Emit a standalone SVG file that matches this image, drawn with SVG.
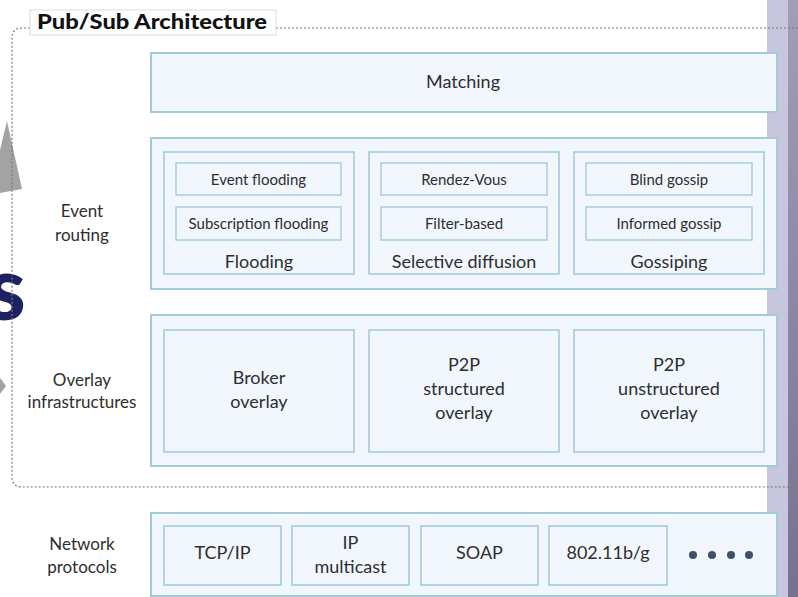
<svg xmlns="http://www.w3.org/2000/svg" width="798" height="597" viewBox="0 0 798 597">
<defs>
<linearGradient id="barg" x1="0" y1="0" x2="0" y2="1">
<stop offset="0" stop-color="#a29eba"/>
<stop offset="1" stop-color="#77718f"/>
</linearGradient>
<style>
.outer{fill:#f1f7fd;stroke:#a3cbdc;stroke-width:2}
.inner{fill:#f1f7fd;stroke:#a3cbdc;stroke-width:1.6}
.sub{fill:#f1f7fd;stroke:#a3cbdc;stroke-width:1.4}
text{font-family:Lato,"Liberation Sans",sans-serif;fill:#2e2e2e;text-anchor:middle}
.l{font-size:18px}
.s{font-size:15px}
.side{font-size:17px}
.frame{fill:none;stroke:#7a7a7a;stroke-width:1.2;stroke-dasharray:2 2}
</style>
</defs>
<rect width="798" height="597" fill="#ffffff"/>
<!-- right side bar -->
<rect x="767" y="0" width="21" height="597" fill="#c6c6dc"/>
<rect x="788" y="0" width="10" height="597" fill="url(#barg)"/>
<!-- left clipped artifacts -->
<polygon points="0,150 7,121 22,189 0,193" fill="#a3a3a3"/>
<polygon points="0,378 6,386 0,394" fill="#a3a3a3"/>
<text x="-14" y="320" style="font-family:Lato,'Liberation Sans',sans-serif;font-weight:900;font-size:90px;fill:#1f2262;text-anchor:start">s</text>
<!-- dotted frame -->
<path class="frame" d="M30,28 H22 Q12,28 12,38 V477 Q12,487 22,487 H798"/>
<path class="frame" d="M276,28 H798"/>
<g id="title">
<rect x="30" y="10" width="246" height="25" fill="#ffffff" stroke="#dcdcdc" stroke-width="1"/>
<text x="152" y="29" textLength="230" lengthAdjust="spacingAndGlyphs" style="font-size:20px;font-weight:900;fill:#111">Pub/Sub Architecture</text>
</g>
<!-- side labels -->
<g id="label-event-routing"><text class="side" x="82" y="217">Event</text><text class="side" x="82" y="241">routing</text></g>
<g id="label-overlay"><text class="side" x="82" y="386">Overlay</text><text class="side" x="82" y="408">infrastructures</text></g>
<g id="label-network"><text class="side" x="82" y="550">Network</text><text class="side" x="82" y="573">protocols</text></g>
<!-- Matching -->
<g id="matching">
<rect class="outer" x="151" y="53" width="626" height="59"/>
<text class="l" x="463" y="88">Matching</text>
</g>
<!-- Event routing -->
<g id="event-routing">
<rect class="outer" x="151" y="138" width="626" height="151"/>
</g>
<g id="flooding">
<rect class="inner" x="164" y="152" width="190" height="122"/>
<rect class="sub" x="176" y="163" width="165" height="32"/>
<text class="s" x="258.5" y="185">Event flooding</text>
<rect class="sub" x="176" y="207" width="165" height="33"/>
<text class="s" x="258.5" y="229">Subscription flooding</text>
<text class="l" x="259" y="268">Flooding</text>
</g>
<g id="selective-diffusion">
<rect class="inner" x="369" y="152" width="190" height="122"/>
<rect class="sub" x="381" y="163" width="166" height="32"/>
<text class="s" x="464" y="185">Rendez-Vous</text>
<rect class="sub" x="381" y="207" width="166" height="33"/>
<text class="s" x="464" y="229">Filter-based</text>
<text class="l" x="464" y="268">Selective diffusion</text>
</g>
<g id="gossiping">
<rect class="inner" x="574" y="152" width="190" height="122"/>
<rect class="sub" x="586" y="163" width="166" height="32"/>
<text class="s" x="669" y="185">Blind gossip</text>
<rect class="sub" x="586" y="207" width="166" height="33"/>
<text class="s" x="669" y="229">Informed gossip</text>
<text class="l" x="669" y="268">Gossiping</text>
</g>
<!-- Overlay infrastructures -->
<g id="overlay-infrastructures">
<rect class="outer" x="151" y="315" width="626" height="151"/>
</g>
<g id="broker-overlay">
<rect class="inner" x="164" y="330" width="190" height="122"/>
<text class="l" x="259" y="384">Broker</text>
<text class="l" x="259" y="408">overlay</text>
</g>
<g id="p2p-structured">
<rect class="inner" x="369" y="330" width="190" height="122"/>
<text class="l" x="464" y="371">P2P</text>
<text class="l" x="464" y="395">structured</text>
<text class="l" x="464" y="419">overlay</text>
</g>
<g id="p2p-unstructured">
<rect class="inner" x="574" y="330" width="190" height="122"/>
<text class="l" x="669" y="371">P2P</text>
<text class="l" x="669" y="395">unstructured</text>
<text class="l" x="669" y="419">overlay</text>
</g>
<!-- Network protocols -->
<g id="network-protocols">
<rect class="outer" x="151" y="513" width="626" height="83"/>
</g>
<g id="tcpip">
<rect class="inner" x="164" y="526" width="117" height="59"/>
<text class="l" x="222.5" y="559">TCP/IP</text>
</g>
<g id="ip-multicast">
<rect class="inner" x="292" y="526" width="117" height="59"/>
<text class="l" x="350.5" y="549">IP</text>
<text class="l" x="350.5" y="573">multicast</text>
</g>
<g id="soap">
<rect class="inner" x="421" y="526" width="117" height="59"/>
<text class="l" x="479.5" y="559">SOAP</text>
</g>
<g id="wifi">
<rect class="inner" x="549" y="526" width="118" height="59"/>
<text class="l" x="608" y="559">802.11b/g</text>
</g>
<g id="more" fill="#3e4f6c">
<circle cx="693" cy="555" r="4"/>
<circle cx="712" cy="555" r="4"/>
<circle cx="731" cy="555" r="4"/>
<circle cx="749" cy="555" r="4"/>
</g>
<g id="connectors"></g>
</svg>
